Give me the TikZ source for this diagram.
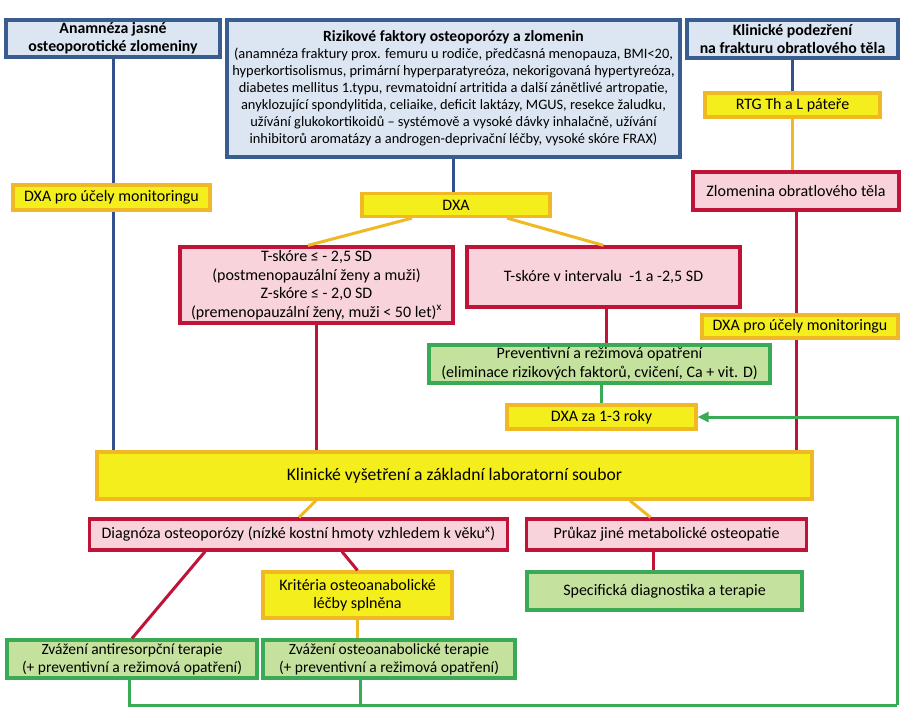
\documentclass[tikz,border=0pt]{standalone}
\usepackage{fontspec}
\setmainfont{Carlito}
\usetikzlibrary{arrows.meta}
\definecolor{bfill}{HTML}{DCE6F2}
\definecolor{bdraw}{HTML}{3A5D8F}
\definecolor{bline}{HTML}{34508F}
\definecolor{yfill}{HTML}{F4EE1C}
\definecolor{ydraw}{HTML}{F0B823}
\definecolor{rfill}{HTML}{F8D3DC}
\definecolor{rdraw}{HTML}{C01338}
\definecolor{gfill}{HTML}{C4E29E}
\definecolor{gdraw}{HTML}{3BAA57}
\begin{document}
\begin{tikzpicture}[x=1pt,y=-1pt,
  box/.style={draw, line width=3.2pt, align=center, inner sep=0pt,
    font=\fontsize{16}{19}\selectfont},
  bluebox/.style={box, draw=bdraw, fill=bfill, font=\fontsize{15.8}{18}\selectfont\bfseries},
  ybox/.style={box, draw=ydraw, fill=yfill},
  rbox/.style={box, draw=rdraw, fill=rfill},
  gbox/.style={box, draw=gdraw, fill=gfill},
  conn/.style={line width=3pt},
  blueln/.style={conn, draw=bline},
  yln/.style={conn, draw=ydraw},
  rln/.style={conn, draw=rdraw},
  gln/.style={conn, draw=gdraw}]
\useasboundingbox[fill=white] (0,0) rectangle (920,720);

\coordinate (loopR) at (897,705);

% ---------- boxes ----------
\node[bluebox, minimum width=214pt, minimum height=37pt] (anam) at (113,38.5)
  {Anamnéza jasné\\osteoporotické zlomeniny};
\node[bluebox, font=\fontsize{14.4}{17}\selectfont, minimum width=453pt, minimum height=137pt] (risk) at (453.5,88.5)
  {{\fontsize{15.6}{17}\selectfont\bfseries Rizikové faktory osteoporózy a zlomenin}\\
   (anamnéza fraktury prox. femuru u rodiče, předčasná menopauza, BMI<20,\\
   hyperkortisolismus, primární hyperparatyreóza, nekorigovaná  hypertyreóza,\\
   diabetes mellitus 1.typu, revmatoidní artritida a další zánětlivé artropatie,\\
   anyklozující spondylitida,  celiaike,  deficit laktázy, MGUS, resekce žaludku,\\
   užívání glukokortikoidů – systémově a vysoké dávky inhalačně, užívání\\
   inhibitorů aromatázy a androgen-deprivační léčby, vysoké skóre FRAX)};
\node[bluebox, minimum width=211pt, minimum height=38pt] (klinpod) at (792.5,39)
  {Klinické podezření\\na frakturu obratlového těla};
\node[ybox, minimum width=175pt, minimum height=24pt] (rtg) at (792.5,105)
  {RTG Th a L páteře};
\node[ybox, minimum width=197pt, minimum height=25pt] (dxamonL) at (111.5,197.5)
  {DXA pro účely monitoringu};
\node[ybox, minimum width=188pt, minimum height=23pt] (dxa) at (456,205)
  {DXA};
\node[rbox, minimum width=206pt, minimum height=38pt] (zlom) at (796,191)
  {Zlomenina obratlového těla};
\node[rbox, font=\fontsize{16}{18.5}\selectfont, minimum width=273pt, minimum height=76pt] (tL) at (316.5,285)
  {T-skóre ≤ - 2,5 SD\\(postmenopauzální ženy a muži)\\Z-skóre ≤ - 2,0 SD\\(premenopauzální ženy, muži < 50 let)\textsuperscript{x}};
\node[rbox, minimum width=273pt, minimum height=60pt] (tR) at (603.5,277)
  {T-skóre v intervalu~ -1 a -2,5 SD};
\node[ybox, minimum width=196pt, minimum height=23pt] (dxamonR) at (800,326.5)
  {DXA pro účely monitoringu};
\node[gbox, minimum width=341pt, minimum height=38pt] (prev) at (599.5,364)
  {Preventivní a režimová opatření\\(eliminace rizikových faktorů, cvičení, Ca + vit. D)};
\node[ybox, minimum width=189pt, minimum height=24pt] (dxaza) at (601.5,417)
  {DXA za 1-3 roky};
\node[ybox, font=\fontsize{17.6}{20}\selectfont, minimum width=715pt, minimum height=47pt] (klin) at (454.5,475.5)
  {Klinické vyšetření a základní laboratorní soubor};
\node[rbox, minimum width=418pt, minimum height=31pt] (diag) at (298.5,534.5)
  {Diagnóza osteoporózy (nízké kostní hmoty vzhledem k věku\textsuperscript{x})};
\node[rbox, minimum width=280pt, minimum height=31pt] (pruk) at (666.5,534.5)
  {Průkaz jiné metabolické osteopatie};
\node[ybox, font=\fontsize{16}{18.5}\selectfont, minimum width=189pt, minimum height=46pt] (krit) at (357.5,595)
  {Kritéria osteoanabolické\\léčby splněna};
\node[gbox, minimum width=275pt, minimum height=38pt] (spec) at (664.5,591)
  {Specifická diagnostika a terapie};
\node[gbox, font=\fontsize{15.5}{18}\selectfont, minimum width=250pt, minimum height=38pt] (zvA) at (132,659)
  {Zvážení antiresorpční terapie\\(+ preventivní a režimová opatření)};
\node[gbox, font=\fontsize{15.5}{18}\selectfont, minimum width=252pt, minimum height=38pt] (zvO) at (389,659)
  {Zvážení osteoanabolické terapie\\(+ preventivní a režimová opatření)};

% ---------- connectors ----------
\draw[blueln] (anam.south) -- (anam.south |- dxamonL.north);
\draw[blueln] (anam.south |- dxamonL.south) -- (anam.south |- klin.north);
\draw[blueln] (risk.south) -- (risk.south |- dxa.north);
\draw[blueln] (klinpod.south) -- (rtg.north);
\draw[yln] (rtg.south) -- (rtg.south |- zlom.north);
\draw[rln] (zlom.south) -- (zlom.south |- dxamonR.north);
\draw[rln] (zlom.south |- dxamonR.south) -- (zlom.south |- klin.north);
\draw[yln] ([xshift=-44pt]dxa.south) -- ([xshift=-8.5pt]tL.north);
\draw[yln] ([xshift=51pt]dxa.south) -- (tR.north);
\draw[rln] (tL.south) -- (tL.south |- klin.north);
\draw[rln] ([xshift=2.5pt]tR.south) -- ([xshift=2.5pt]tR.south |- prev.north);
\draw[gln] (dxaza.north |- prev.south) -- (dxaza.north);
\draw[yln] ([xshift=-138.5pt]klin.south) -- ([xshift=0.5pt]diag.north);
\draw[yln] ([xshift=175.5pt]klin.south) -- ([xshift=-16pt]pruk.north);
\draw[rln] ([xshift=-93.5pt]diag.south) -- (zvA.north);
\draw[rln] ([xshift=43.5pt]diag.south) -- (krit.north);
\draw[yln] (krit.south) -- (krit.south |- zvO.north);
\draw[rln] ([xshift=-13pt]pruk.south) -- ([xshift=-13pt]pruk.south |- spec.north);
\draw[gln] ([xshift=-3pt]zvA.south) |- (loopR);
\draw[gln] ([xshift=3pt]krit.south |- zvO.south) -- ([xshift=3pt]krit.south |- loopR);
\draw[gln, -{Triangle[length=11pt,width=10pt]}] (loopR) |- (dxaza.east);
\end{tikzpicture}
\end{document}
